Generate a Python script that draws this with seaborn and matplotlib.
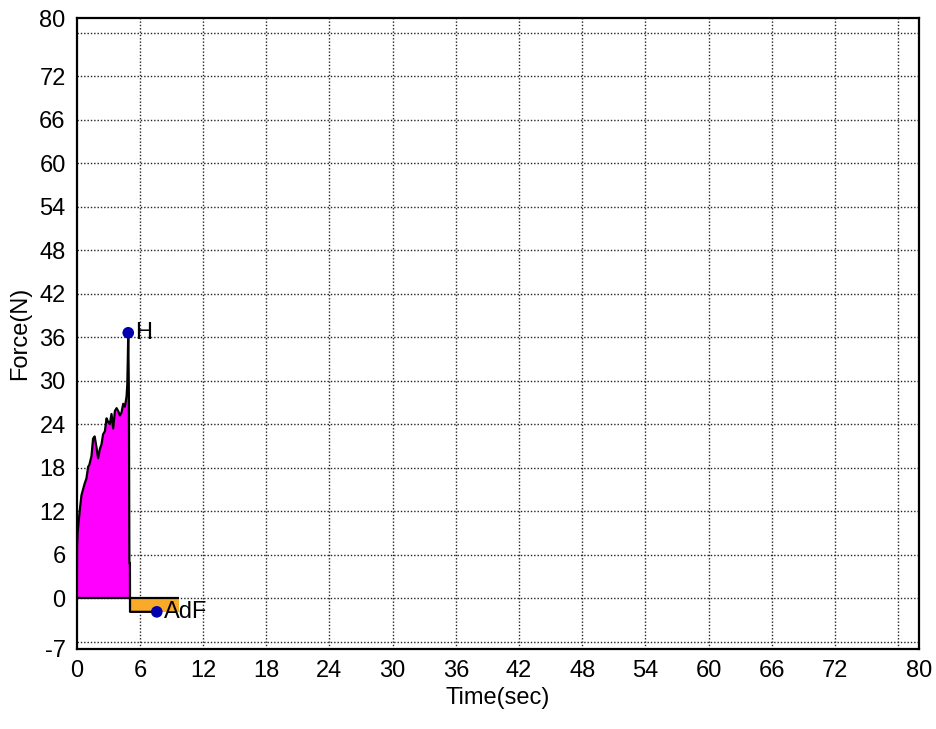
import numpy as np
import pandas as pd
import seaborn as sns
import matplotlib
matplotlib.use('Agg')
import matplotlib.pyplot as plt

# force curve
time_s = [0, 0.03, 0.08, 0.13, 0.3, 0.45, 0.6, 0.75, 0.92, 1.08, 1.2, 1.4, 1.55, 1.7,
          1.85, 2.03, 2.2, 2.35, 2.5, 2.67, 2.83, 2.98, 3.14, 3.3, 3.46, 3.62, 3.78,
          3.94, 4.1, 4.25, 4.41, 4.57, 4.73, 4.8, 4.85, 4.89, 4.95, 5.0, 5.05, 5.06, 7.6]
force_n = [0, 7.0, 9.0, 9.8, 12.3, 14.2, 15.0, 15.8, 16.5, 18.1, 18.4, 19.6, 22.0, 22.3,
           21.0, 19.3, 20.6, 21.2, 22.6, 23.0, 24.8, 24.3, 24.0, 25.4, 23.4, 25.8, 26.2,
           25.8, 25.2, 25.6, 26.8, 26.4, 27.8, 29.5, 33.0, 36.6, 28.0, 4.8, 4.8, -1.9, -1.9]

# marked points
pt_names = ['H', 'AdF']
pt_time = [4.89, 7.6]
pt_force = [36.6, -1.9]

# adhesion block
adf_t = [5.06, 9.7]
adf_level = -1.9

xtick_vals = [0, 6, 12, 18, 24, 30, 36, 42, 48, 54, 60, 66, 72, 80]
ytick_vals = [-7, 0, 6, 12, 18, 24, 30, 36, 42, 48, 54, 60, 66, 72, 80]
x_grid = [6, 12, 18, 24, 30, 36, 42, 48, 54, 60, 66, 72, 78]
y_grid = [-6, 0, 6, 12, 18, 24, 30, 36, 42, 48, 54, 60, 66, 72, 78]

sns.set_theme(style='white')
plt.rcParams['font.family'] = ['Liberation Sans', 'DejaVu Sans']
plt.rcParams['axes.unicode_minus'] = False
plt.rcParams['text.color'] = 'black'
plt.rcParams['axes.labelcolor'] = 'black'

df = pd.DataFrame({'t': time_s, 'f': force_n})

fig, ax = plt.subplots(figsize=(9.36, 7.29), dpi=100)
fig.subplots_adjust(left=0.082, right=0.982, top=0.975, bottom=0.110)

ax.set_xlim(0, 80)
ax.set_ylim(-7, 80)
ax.set_xticks(xtick_vals)
ax.set_yticks(ytick_vals)
ax.set_xticklabels([str(v) for v in xtick_vals])
ax.set_yticklabels([str(v) for v in ytick_vals])
ax.grid(False)
ax.tick_params(which='both', length=0, labelsize=17, pad=8, colors='black')

# dotted grid every 6 units
for gx in x_grid:
    ax.axvline(gx, color='#222222', linestyle=(0, (1, 1.4)), linewidth=1.0, zorder=1)
for gy in y_grid:
    ax.axhline(gy, color='#222222', linestyle=(0, (1, 1.4)), linewidth=1.0, zorder=1)

t = np.array(time_s)
f = np.array(force_n)
ax.fill_between(t, f, 0, where=f >= 0, color='#FF00FF', linewidth=0, zorder=2)
ax.fill_between(adf_t, [adf_level, adf_level], 0, color='#F8AA28', linewidth=0, zorder=2)
ax.hlines(0, 0, adf_t[1], color='black', linewidth=1.6, zorder=3)

sns.lineplot(data=df, x='t', y='f', color='black', linewidth=1.6, sort=False,
             estimator=None, ax=ax, zorder=4)
sns.scatterplot(x=pt_time, y=pt_force, color='#0000B0', s=70, edgecolor='none',
                ax=ax, zorder=5)
for name, xt, yf in zip(pt_names, pt_time, pt_force):
    ax.text(xt + 0.7, yf, name, fontsize=17, va='center', ha='left', color='black', zorder=6)

for s in ax.spines.values():
    s.set_color('black')
    s.set_linewidth(1.6)
    s.set_visible(True)

ax.set_xlabel('Time(sec)', fontsize=17, labelpad=4)
ax.set_ylabel('Force(N)', fontsize=17, labelpad=6)

fig.savefig('out.png', dpi=100)
